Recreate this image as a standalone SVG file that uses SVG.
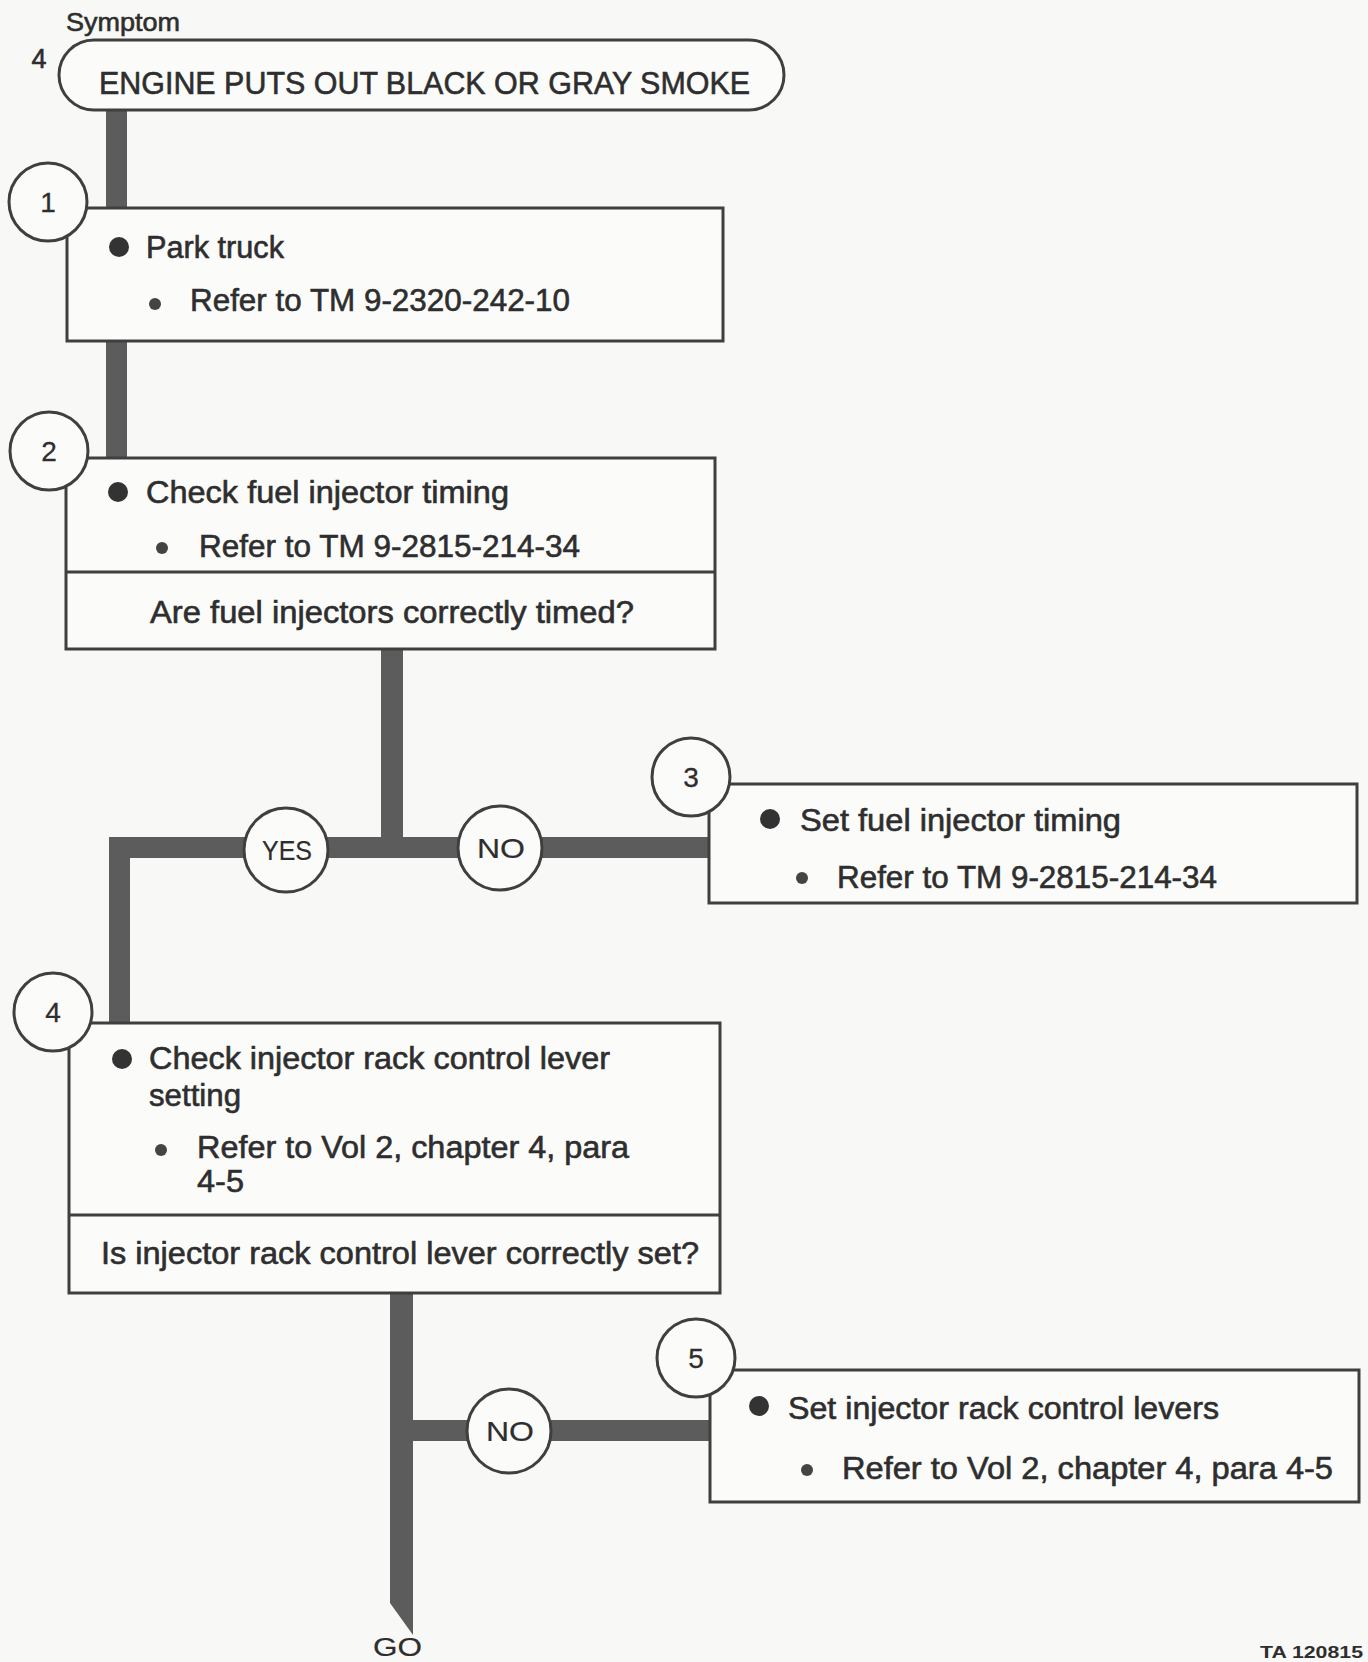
<svg xmlns="http://www.w3.org/2000/svg" width="1368" height="1662" viewBox="0 0 1368 1662">
<style>
  text { font-family: "Liberation Sans", Arial, sans-serif; fill: #2e2e2e; stroke: #2e2e2e; stroke-width: 0.6; }
  .box { fill: #fbfbfa; stroke: #3f3f3f; stroke-width: 3; }
  .num { fill: #fbfbfa; stroke: #3f3f3f; stroke-width: 3; }
  .bar { fill: #5c5c5c; }
  .t { font-size: 31px; }
  .n { font-size: 28px; text-anchor: middle; stroke-width: 0.3; }
  .yn { font-size: 28px; stroke-width: 0.2; }
  .big { fill: #333; }
  .small { fill: #444; }
</style>
<rect x="0" y="0" width="1368" height="1662" fill="#f8f8f6"/>

<g id="connectors">
  <rect class="bar" x="106" y="105" width="21" height="105"/>
  <rect class="bar" x="106" y="339" width="21" height="121"/>
  <rect class="bar" x="381" y="647" width="22" height="201"/>
  <rect class="bar" x="109" y="837" width="602" height="21"/>
  <rect class="bar" x="109" y="837" width="21" height="188"/>
  <path class="bar" d="M390,1291 L413,1291 L413,1635 L390,1603 Z"/>
  <rect class="bar" x="390" y="1420" width="322" height="21"/>
</g>

<g id="symptom">
  <text x="66" y="31" style="font-size:26px" textLength="114" lengthAdjust="spacingAndGlyphs">Symptom</text>
  <text x="39" y="68" style="font-size:27px" text-anchor="middle">4</text>
  <rect class="box" x="59" y="40" width="725" height="70" rx="35" ry="35"/>
  <text x="99" y="94" style="font-size:32px" textLength="651" lengthAdjust="spacingAndGlyphs">ENGINE PUTS OUT BLACK OR GRAY SMOKE</text>
</g>

<g id="step1">
  <rect class="box" x="67" y="208" width="656" height="133"/>
  <circle class="num" cx="48" cy="202" r="39"/>
  <text class="n" x="48" y="212">1</text>
  <circle class="big" cx="119" cy="247" r="10"/>
  <text class="t" x="146" y="258" textLength="138" lengthAdjust="spacingAndGlyphs">Park truck</text>
  <circle class="small" cx="155" cy="304" r="6"/>
  <text class="t" x="190" y="311" textLength="380" lengthAdjust="spacingAndGlyphs">Refer to TM 9-2320-242-10</text>
</g>

<g id="step2">
  <rect class="box" x="66" y="458" width="649" height="191"/>
  <line x1="66" y1="572" x2="715" y2="572" stroke="#3f3f3f" stroke-width="3"/>
  <circle class="num" cx="49" cy="451" r="39"/>
  <text class="n" x="49" y="461">2</text>
  <circle class="big" cx="118" cy="492" r="10"/>
  <text class="t" x="146" y="503" textLength="363" lengthAdjust="spacingAndGlyphs">Check fuel injector timing</text>
  <circle class="small" cx="162" cy="548" r="6"/>
  <text class="t" x="199" y="557" textLength="381" lengthAdjust="spacingAndGlyphs">Refer to TM 9-2815-214-34</text>
  <text class="t" x="150" y="623" textLength="484" lengthAdjust="spacingAndGlyphs">Are fuel injectors correctly timed?</text>
</g>

<g id="yes1">
  <circle class="num" cx="286" cy="850" r="42"/>
  <text class="yn" x="262" y="860" textLength="50" lengthAdjust="spacingAndGlyphs">YES</text>
</g>
<g id="no1">
  <circle class="num" cx="500" cy="848" r="42"/>
  <text class="yn" x="477" y="858" textLength="48" lengthAdjust="spacingAndGlyphs">NO</text>
</g>

<g id="step3">
  <rect class="box" x="709" y="784" width="648" height="119"/>
  <circle class="num" cx="691" cy="777" r="39"/>
  <text class="n" x="691" y="787">3</text>
  <circle class="big" cx="770" cy="819" r="10"/>
  <text class="t" x="800" y="831" textLength="321" lengthAdjust="spacingAndGlyphs">Set fuel injector timing</text>
  <circle class="small" cx="802" cy="878" r="6"/>
  <text class="t" x="837" y="888" textLength="380" lengthAdjust="spacingAndGlyphs">Refer to TM 9-2815-214-34</text>
</g>

<g id="step4">
  <rect class="box" x="69" y="1023" width="651" height="270"/>
  <line x1="69" y1="1215" x2="720" y2="1215" stroke="#3f3f3f" stroke-width="3"/>
  <circle class="num" cx="53" cy="1012" r="39"/>
  <text class="n" x="53" y="1022">4</text>
  <circle class="big" cx="122" cy="1059" r="10"/>
  <text class="t" x="149" y="1069" textLength="461" lengthAdjust="spacingAndGlyphs">Check injector rack control lever</text>
  <text class="t" x="149" y="1106" textLength="92" lengthAdjust="spacingAndGlyphs">setting</text>
  <circle class="small" cx="161" cy="1150" r="6"/>
  <text class="t" x="197" y="1158" textLength="432" lengthAdjust="spacingAndGlyphs">Refer to Vol 2, chapter 4, para</text>
  <text class="t" x="197" y="1192" textLength="47" lengthAdjust="spacingAndGlyphs">4-5</text>
  <text class="t" x="101" y="1264" textLength="598" lengthAdjust="spacingAndGlyphs">Is injector rack control lever correctly set?</text>
</g>

<g id="no2">
  <circle class="num" cx="509" cy="1431" r="42"/>
  <text class="yn" x="486" y="1441" textLength="48" lengthAdjust="spacingAndGlyphs">NO</text>
</g>

<g id="step5">
  <rect class="box" x="710" y="1370" width="649" height="132"/>
  <circle class="num" cx="696" cy="1358" r="39"/>
  <text class="n" x="696" y="1368">5</text>
  <circle class="big" cx="759" cy="1406" r="10"/>
  <text class="t" x="788" y="1419" textLength="431" lengthAdjust="spacingAndGlyphs">Set injector rack control levers</text>
  <circle class="small" cx="807" cy="1470" r="6"/>
  <text class="t" x="842" y="1479" textLength="491" lengthAdjust="spacingAndGlyphs">Refer to Vol 2, chapter 4, para 4-5</text>
</g>

<g id="go">
  <text x="373" y="1656" style="font-size:25px;stroke-width:0.2" textLength="49" lengthAdjust="spacingAndGlyphs">GO</text>
</g>
<text x="1260" y="1658" style="font-size:17px;font-weight:bold;stroke-width:0" textLength="103" lengthAdjust="spacingAndGlyphs">TA 120815</text>
</svg>
